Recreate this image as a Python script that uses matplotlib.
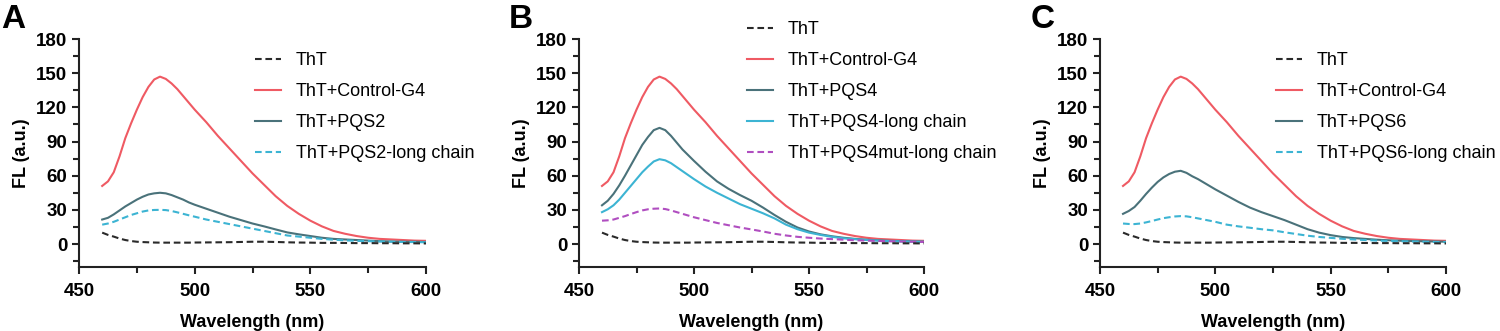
import matplotlib.pyplot as plt
from matplotlib.ticker import MultipleLocator

plt.rcParams['font.family'] = ['Liberation Sans', 'DejaVu Sans']

# wavelength grid (nm): 2.5 nm steps round the peak, 5 nm after
wl = [460, 462.5, 465, 467.5, 470, 472.5, 475, 477.5, 480, 482.5, 485, 487.5, 490, 492.5,
      495, 497.5, 500, 505, 510, 515, 520, 525, 530, 535, 540, 545, 550, 555, 560, 565,
      570, 575, 580, 585, 590, 595, 600]

tht = [10, 8, 6.5, 4.8, 3.5, 2.6, 2, 1.7, 1.5, 1.3, 1.2, 1.2, 1.2, 1.2,
       1.2, 1.2, 1.3, 1.4, 1.5, 1.6, 1.8, 2, 2, 1.8, 1.5, 1.3, 1.2, 1, 1, 0.9,
       0.8, 0.8, 0.7, 0.7, 0.6, 0.6, 0.5]
control_g4 = [51, 55, 63, 77, 93, 106, 118, 129, 138, 144.5, 147, 145, 141, 136,
              130, 124, 118, 107, 95, 84, 73, 62, 52, 42, 33.5, 26.5, 20.5, 15.5, 11.5, 9,
              7, 5.5, 4.5, 4, 3.5, 3, 2.8]

# panel A
pqs2 = [21.5, 23, 26, 29.5, 33, 36, 39, 41.5, 43.5, 44.5, 45, 44.5, 43, 41,
        39, 36.5, 34.5, 31, 27.5, 24, 21, 18, 15.5, 12.8, 10.2, 8.5, 7, 5.5, 4.5, 4,
        3.5, 3, 2.5, 2.2, 2, 2, 1.8]
pqs2_long = [17, 18, 19.5, 21.5, 23.5, 25.5, 27, 28.5, 29.5, 29.9, 30, 29.8, 29, 27.8,
             26.5, 25.2, 24, 21.5, 19.5, 17.5, 15.5, 13.5, 11.5, 9.5, 7.5, 6.5, 5.5, 4.5, 3.8, 3.2,
             2.8, 2.5, 2.2, 2, 1.8, 1.7, 1.5]

# panel B
pqs4 = [34, 38, 44, 51.5, 60, 69, 78, 87, 94, 100, 102, 100, 95, 89,
        83, 78, 73, 63.5, 55, 48.5, 43, 38, 32, 25.5, 19.5, 14.5, 11, 8.5, 6.8, 5.5,
        4.5, 3.8, 3.2, 2.8, 2.5, 2.3, 2]
pqs4_long = [28, 30.5, 34, 39, 45, 51, 57, 63, 68, 72.5, 74.5, 73.5, 71, 67.5,
             64, 60.5, 57, 50.5, 45, 40, 35, 31, 27, 22.5, 17, 13, 10, 8, 6.3, 5,
             4.2, 3.5, 3, 2.6, 2.3, 2.1, 2]
pqs4mut_long = [20.5, 20.8, 21.5, 23, 24.5, 26.3, 28, 29.5, 30.5, 31, 31.2, 30.7, 29.5, 28,
                26.5, 25, 23.5, 21, 18.5, 16.5, 14.5, 12.8, 11, 9, 7.5, 6.3, 5.5, 4.8, 4.3, 3.8,
                3.3, 3, 2.7, 2.4, 2.2, 2, 1.8]

# panel C
pqs6 = [26.5, 29, 32.5, 38, 44, 49.5, 54.5, 58.5, 61.5, 63.5, 64.3, 62.5, 59.5, 57,
        54, 51, 48, 42.5, 37, 32, 28, 24.5, 21, 17, 13, 10, 7.8, 6.2, 5.2, 4.5,
        3.8, 3.3, 2.9, 2.6, 2.4, 2.2, 2]
pqs6_long = [18, 17.6, 17.5, 18, 19, 20.2, 21.5, 22.7, 23.5, 24.2, 24.5, 24.3, 23.5, 22.5,
             21.5, 20.5, 19.5, 17, 15.5, 14.3, 13, 12, 10.3, 8.8, 7.3, 6.2, 5.4, 4.6, 4, 3.5,
             3, 2.7, 2.4, 2.2, 2, 1.8, 1.7]

c_black = '#2a2a2a'
c_red = '#ef5a63'
c_teal = '#4a727a'
c_blue = '#3cb4d3'
c_purple = '#b04ec0'
dash = (3.2, 1.8)

fig = plt.figure(figsize=(15, 3.31), dpi=100)

# letter x (fig frac), axes rect, legend anchor (px from left, fig frac top), extra series
panels = [
    ('A', 0.001, [0.0527, 0.194, 0.2313, 0.688], (255, 0.843),
     [(pqs2, 'ThT+PQS2', c_teal, '-'), (pqs2_long, 'ThT+PQS2-long chain', c_blue, '--')]),
    ('B', 0.339, [0.386, 0.194, 0.230, 0.688], (747, 0.937),
     [(pqs4, 'ThT+PQS4', c_teal, '-'), (pqs4_long, 'ThT+PQS4-long chain', c_blue, '-'),
      (pqs4mut_long, 'ThT+PQS4mut-long chain', c_purple, '--')]),
    ('C', 0.687, [0.7333, 0.194, 0.2307, 0.688], (1276, 0.843),
     [(pqs6, 'ThT+PQS6', c_teal, '-'), (pqs6_long, 'ThT+PQS6-long chain', c_blue, '--')]),
]

for letter, lx, pos, leg_at, series in panels:
    ax = fig.add_axes(pos)
    handles = []
    h_red, = ax.plot(wl, control_g4, color=c_red, lw=1.5, label='ThT+Control-G4')
    for ys, lab, col, ls in series:
        h, = ax.plot(wl, ys, color=col, lw=1.5, ls=ls, label=lab)
        if ls == '--':
            h.set_dashes(dash)
        handles.append(h)
    # ThT on top, it runs over the others near 600 nm
    h_tht, = ax.plot(wl, tht, color=c_black, lw=1.5, ls='--', label='ThT', zorder=5)
    h_tht.set_dashes(dash)

    ax.set_xlim(450, 600)
    ax.set_ylim(-20, 180)
    ax.set_xticks([450, 500, 550, 600])
    ax.set_yticks(range(0, 181, 30))
    ax.xaxis.set_minor_locator(MultipleLocator(25))
    ax.yaxis.set_minor_locator(MultipleLocator(15))
    for s in ['top', 'right']:
        ax.spines[s].set_visible(False)
    for s in ['left', 'bottom']:
        ax.spines[s].set_linewidth(1.5)
        ax.spines[s].set_color('#222222')
    ax.tick_params(which='major', length=5, width=1.5, labelsize=13.5, color='#222222')
    ax.tick_params(axis='x', which='major', pad=6.5)
    ax.tick_params(which='minor', length=4, width=1.5, color='#222222')
    for t in ax.get_xticklabels() + ax.get_yticklabels():
        t.set_fontweight('bold')
    ax.set_xlabel('Wavelength (nm)', fontsize=13, fontweight='bold', labelpad=10)
    ax.set_ylabel('FL (a.u.)', fontsize=13, fontweight='bold', labelpad=4)

    hs = [h_tht, h_red] + handles
    ax.legend(hs, [h.get_label() for h in hs],
              loc='upper left', bbox_to_anchor=(leg_at[0] / 1500, leg_at[1]),
              bbox_transform=fig.transFigure, frameon=False, fontsize=13,
              borderpad=0, borderaxespad=0, handlelength=1.45, handletextpad=0.8,
              labelspacing=0.78)

    fig.text(lx, 0.915, letter, fontsize=24, fontweight='bold', ha='left', va='baseline')

fig.savefig('out.png', dpi=100)
